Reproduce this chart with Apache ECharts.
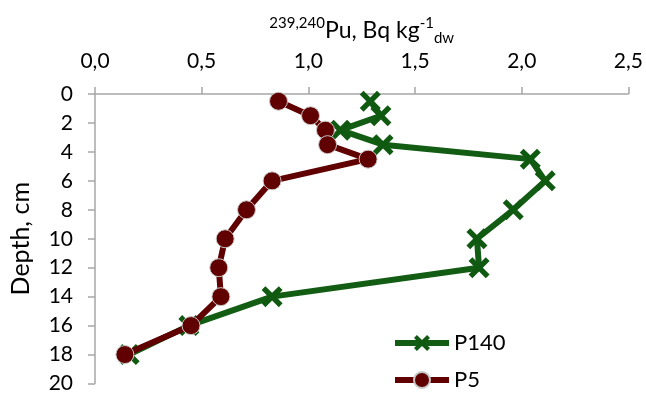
<!DOCTYPE html>
<html>
<head>
<meta charset="utf-8">
<script src="https://cdn.jsdelivr.net/npm/echarts@6/dist/echarts.min.js"></script>
<style>
  html, body { margin: 0; padding: 0; background: #fff; }
  #chart { width: 646px; height: 394px; }
</style>
</head>
<body>
<div id="chart"></div>
<script type="text/javascript">
  // depth, cm
  var depths = [0.5, 1.5, 2.5, 3.5, 4.5, 6, 8, 10, 12, 14, 16, 18];
  // 239,240Pu, Bq/kg dw
  var p140 = [1.29, 1.34, 1.15, 1.35, 2.04, 2.11, 1.96, 1.79, 1.80, 0.83, 0.44, 0.16];
  var p5 = [0.86, 1.01, 1.08, 1.09, 1.28, 0.83, 0.71, 0.61, 0.58, 0.59, 0.45, 0.14];

  function pairs(vals) {
    var out = [];
    for (var i = 0; i < vals.length; i++) out.push([vals[i], depths[i]]);
    return out;
  }

  var crossPath = 'path://M0,1.8 L1.8,0 L5,3.2 L8.2,0 L10,1.8 L6.8,5 L10,8.2 L8.2,10 L5,6.8 L1.8,10 L0,8.2 L3.2,5 Z';
  var font = 'Lato, "Open Sans", sans-serif';
  var axisGray = '#a6a6a6';
  var green = '#0f5a10';
  var red = '#600000';

  function legendAt(name, top) {
    return {
      left: 392, top: top,
      padding: 0,
      itemWidth: 54, itemHeight: 20,
      lineStyle: { width: 6 },
      textStyle: { fontSize: 22, color: '#000', fontFamily: font },
      data: [name]
    };
  }

  var chart = echarts.init(document.getElementById('chart'));
  chart.setOption({
    animation: false,
    textStyle: { fontFamily: font },
    grid: { left: 92, right: 16, top: 94, bottom: 8 },
    xAxis: {
      type: 'value',
      position: 'top',
      min: 0, max: 2.5, interval: 0.5,
      name: '{sup|239,240}{main|Pu, Bq kg}{sup|-1}{sub|dw}',
      nameLocation: 'middle',
      nameGap: 48,
      nameTextStyle: {
        rich: {
          main: { fontSize: 23, fontFamily: font, color: '#000', lineHeight: 30, verticalAlign: 'middle' },
          sup: { fontSize: 15, fontFamily: font, color: '#000', verticalAlign: 'top', lineHeight: 15 },
          sub: { fontSize: 15, fontFamily: font, color: '#000', verticalAlign: 'bottom', lineHeight: 15 }
        }
      },
      axisLine: { show: true, lineStyle: { color: axisGray, width: 1.5 } },
      axisTick: { show: true, length: 7, lineStyle: { color: axisGray, width: 1.5 } },
      axisLabel: {
        color: '#000', fontSize: 21, margin: 22,
        formatter: function (v) { return v.toFixed(1).replace('.', ','); }
      },
      splitLine: { show: false }
    },
    yAxis: {
      type: 'value',
      inverse: true,
      min: 0, max: 20, interval: 2,
      name: 'Depth, cm',
      nameLocation: 'middle',
      nameGap: 62,
      nameTextStyle: { fontSize: 25, color: '#000' },
      axisLine: { show: true, lineStyle: { color: axisGray, width: 1.5 } },
      axisTick: { show: true, length: 7, lineStyle: { color: axisGray, width: 1.5 } },
      axisLabel: { color: '#000', fontSize: 21, margin: 22 },
      splitLine: { show: false }
    },
    legend: [legendAt('P140', 332), legendAt('P5', 369)],
    series: [
      {
        name: 'P140',
        type: 'line',
        data: pairs(p140),
        symbol: crossPath,
        symbolSize: 21,
        lineStyle: { color: '#135c14', width: 6 },
        itemStyle: { color: green, borderWidth: 0 },
        z: 2
      },
      {
        name: 'P5',
        type: 'line',
        data: pairs(p5),
        symbol: 'circle',
        symbolSize: 18,
        lineStyle: { color: red, width: 6 },
        itemStyle: { color: red, borderColor: '#c8c8c8', borderWidth: 1 },
        z: 3
      }
    ]
  });
</script>
</body>
</html>
